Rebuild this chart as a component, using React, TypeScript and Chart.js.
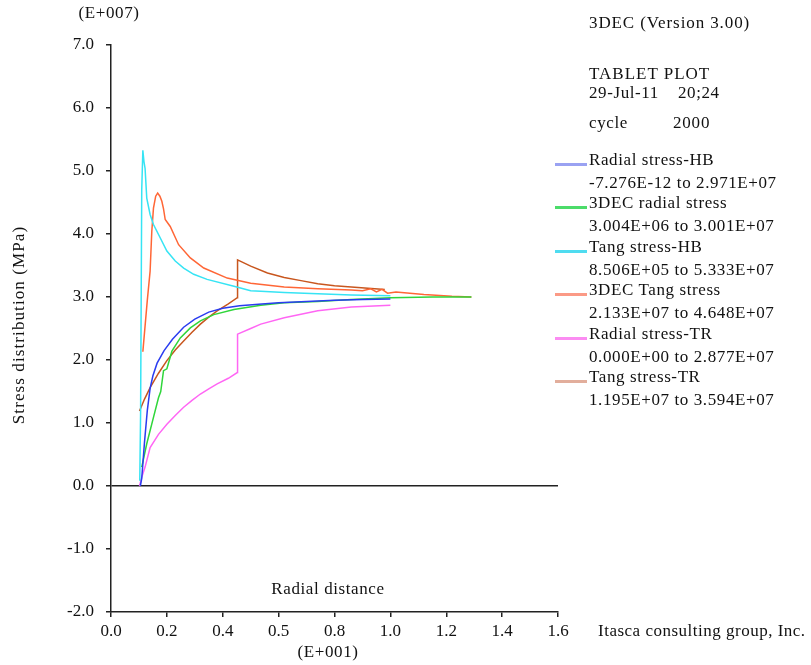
import React, { useEffect, useRef } from "react";
import { Chart, registerables } from "chart.js";
Chart.register(...registerables);

// ---- Axis ticks ----
const xTickLabels = ["0.0", "0.2", "0.4", "0.5", "0.8", "1.0", "1.2", "1.4", "1.6"];
const xMin = 0;
const xMax = 1.6;
const yMin = -2;
const yMax = 7;

// ---- Series (x in E+001, y in E+007) ----
const radialHBx = [0.105, 0.11, 0.12, 0.13, 0.14, 0.15, 0.165, 0.19, 0.22, 0.26, 0.30, 0.35, 0.40, 0.46, 0.54, 0.60, 0.70, 0.80, 0.90, 1.00];
const radialHBy = [0.00, 0.12, 0.70, 1.20, 1.55, 1.75, 1.95, 2.15, 2.33, 2.52, 2.65, 2.76, 2.82, 2.86, 2.89, 2.91, 2.93, 2.95, 2.96, 2.97];

const dec3Radialx = [0.11, 0.128, 0.152, 0.17, 0.178, 0.188, 0.20, 0.218, 0.248, 0.284, 0.32, 0.368, 0.44, 0.536, 0.62, 0.74, 0.86, 1.0, 1.15, 1.29];
const dec3Radialy = [0.30, 0.67, 1.09, 1.40, 1.50, 1.83, 1.86, 2.14, 2.35, 2.51, 2.62, 2.72, 2.80, 2.87, 2.91, 2.93, 2.96, 2.99, 3.00, 3.00];

const tangHBx = [0.103, 0.106, 0.110, 0.114, 0.118, 0.122, 0.128, 0.14, 0.152, 0.176, 0.2, 0.23, 0.26, 0.296, 0.344, 0.44, 0.5, 0.536, 0.62, 0.74, 0.86, 1.0];
const tangHBy = [0.085, 1.2, 4.7, 5.33, 5.15, 5.04, 4.57, 4.31, 4.15, 3.94, 3.73, 3.57, 3.46, 3.36, 3.28, 3.17, 3.10, 3.09, 3.07, 3.05, 3.03, 3.02];

const dec3Tangx = [0.114, 0.13, 0.14, 0.146, 0.152, 0.16, 0.167, 0.175, 0.182, 0.188, 0.194, 0.212, 0.242, 0.284, 0.332, 0.416, 0.5, 0.62, 0.74, 0.86, 0.90, 0.93, 0.95, 0.97, 0.99, 1.02, 1.12, 1.22, 1.29];
const dec3Tangy = [2.13, 2.95, 3.41, 4.04, 4.41, 4.60, 4.65, 4.60, 4.52, 4.40, 4.23, 4.12, 3.83, 3.62, 3.46, 3.30, 3.22, 3.16, 3.13, 3.11, 3.10, 3.13, 3.08, 3.12, 3.06, 3.08, 3.04, 3.01, 3.00];

const radialTRx = [0.102, 0.11, 0.122, 0.14, 0.17, 0.2, 0.23, 0.26, 0.29, 0.32, 0.35, 0.38, 0.42, 0.452, 0.453, 0.5, 0.536, 0.62, 0.74, 0.86, 1.0];
const radialTRy = [0.0, 0.14, 0.30, 0.61, 0.82, 0.98, 1.12, 1.25, 1.36, 1.46, 1.54, 1.62, 1.71, 1.80, 2.41, 2.50, 2.57, 2.67, 2.78, 2.84, 2.87];

const tangTRx = [0.102, 0.12, 0.14, 0.17, 0.2, 0.23, 0.26, 0.29, 0.32, 0.35, 0.38, 0.42, 0.452, 0.453, 0.5, 0.56, 0.62, 0.68, 0.74, 0.80, 0.86, 0.92, 0.98];
const tangTRy = [1.19, 1.38, 1.56, 1.79, 1.99, 2.16, 2.30, 2.44, 2.57, 2.68, 2.78, 2.89, 2.99, 3.59, 3.49, 3.38, 3.31, 3.26, 3.21, 3.18, 3.16, 3.14, 3.12];

const seriesNames = ["Radial stress-HB", "3DEC radial stress", "Tang stress-HB", "3DEC Tang stress", "Radial stress-TR", "Tang stress-TR"];
const seriesRanges = [
  "-7.276E-12 to 2.971E+07",
  "3.004E+06 to 3.001E+07",
  "8.506E+05 to 5.333E+07",
  "2.133E+07 to 4.648E+07",
  "0.000E+00 to 2.877E+07",
  "1.195E+07 to 3.594E+07",
];
const lineColors = ["#2a3cf0", "#2fd63a", "#36e4f4", "#ff6636", "#ff66f4", "#c8561e"];
const swatchColors = ["#9aa2f2", "#4cdc6a", "#4fdcf0", "#fb9a86", "#fb8cf2", "#e2ae9c"];

const headerLines = [
  { text: "3DEC (Version 3.00)", x: 589, base: 29, ls: 0.9 },
  { text: "TABLET PLOT", x: 589, base: 80, ls: 1.0 },
  { text: "29-Jul-11", x: 589, base: 99, ls: 0.6 },
  { text: "20;24", x: 678, base: 99, ls: 0.6 },
  { text: "cycle", x: 589, base: 129, ls: 0.6 },
  { text: "2000", x: 673, base: 129, ls: 0.8 },
];

const FONT = "'Liberation Serif', 'Times New Roman', serif";

function pts(xs: number[], ys: number[]) {
  return xs.map((x, i) => ({ x, y: ys[i] }));
}

function Txt(props: { x: number; base: number; text: string; size?: number; center?: boolean; ls?: number }) {
  const size = props.size ?? 17;
  const style: React.CSSProperties = {
    position: "absolute",
    left: props.center ? props.x - 200 : props.x,
    width: props.center ? 400 : undefined,
    textAlign: props.center ? "center" : "left",
    top: props.base - 16,
    fontFamily: FONT,
    fontSize: size,
    lineHeight: "20px",
    whiteSpace: "pre",
    color: "#111",
    letterSpacing: (props.ls ?? 0.6) + "px",
  };
  return <div style={style}>{props.text}</div>;
}

export default function App() {
  const ref = useRef<HTMLCanvasElement | null>(null);

  useEffect(() => {
    if (!ref.current) return;
    const allX = [radialHBx, dec3Radialx, tangHBx, dec3Tangx, radialTRx, tangTRx];
    const allY = [radialHBy, dec3Radialy, tangHBy, dec3Tangy, radialTRy, tangTRy];
    const chart = new Chart(ref.current, {
      type: "scatter",
      data: {
        datasets: seriesNames.map((name, i) => ({
          label: name,
          data: pts(allX[i], allY[i]),
          showLine: true,
          borderColor: lineColors[i],
          backgroundColor: lineColors[i],
          borderWidth: 1.5,
          pointRadius: 0,
          tension: 0,
        })),
      },
      options: {
        responsive: false,
        animation: false,
        events: [],
        layout: { padding: { left: 0, right: 811 - 558, top: 45, bottom: 13 } },
        plugins: { legend: { display: false }, tooltip: { enabled: false }, title: { display: false } },
        scales: {
          x: {
            type: "linear",
            min: xMin,
            max: xMax,
            afterFit: (s: any) => {
              s.height = 40;
            },
            afterBuildTicks: (s: any) => {
              s.ticks = xTickLabels.map((_, i) => ({ value: xMin + i * 0.2 }));
            },
            ticks: {
              autoSkip: false,
              maxRotation: 0,
              padding: 4,
              color: "#111",
              font: { family: FONT, size: 17 },
              callback: (_v: any, i: number) => xTickLabels[i],
            },
            grid: { display: true, drawOnChartArea: false, drawTicks: true, tickLength: 5, color: "#222", lineWidth: 1.5 },
            border: { display: true, color: "#222", width: 1.5 },
          },
          y: {
            type: "linear",
            min: yMin,
            max: yMax,
            afterFit: (s: any) => {
              s.width = 111;
            },
            ticks: {
              stepSize: 1,
              padding: 12,
              color: "#111",
              font: { family: FONT, size: 17 },
              callback: (v: any) => Number(v).toFixed(1),
            },
            grid: {
              display: true,
              drawOnChartArea: true,
              drawTicks: true,
              tickLength: 5,
              color: (ctx: any) => (ctx.tick && ctx.tick.value === 0 ? "#222" : "rgba(0,0,0,0)"),
              tickColor: "#222",
              lineWidth: 1.5,
            },
            border: { display: true, color: "#222", width: 1.5 },
          },
        },
      },
    });
    return () => chart.destroy();
  }, []);

  return (
    <div style={{ position: "absolute", left: 0, top: 0, width: 811, height: 665, background: "#fff", overflow: "hidden" }}>
      <canvas ref={ref} width={811} height={665} style={{ position: "absolute", left: 0, top: 0 }} />
      <Txt x={109} base={19} text="(E+007)" center />
      <Txt x={328} base={595} text="Radial distance" center />
      <Txt x={328} base={658} text="(E+001)" center />
      <Txt x={598} base={637} text="Itasca consulting group, Inc." ls={0.5} />
      {headerLines.map((h, i) => (
        <Txt key={"h" + i} x={h.x} base={h.base} text={h.text} ls={h.ls} />
      ))}
      {seriesNames.map((name, i) => {
        const b = 165.5 + i * 43.5;
        return (
          <React.Fragment key={"l" + i}>
            <div style={{ position: "absolute", left: 555, top: b - 3, width: 32, height: 3, background: swatchColors[i] }} />
            <Txt x={589} base={b} text={name} />
            <Txt x={589} base={b + 23} text={seriesRanges[i]} />
          </React.Fragment>
        );
      })}
      <div
        style={{
          position: "absolute",
          left: 19 - 150,
          top: 325 - 10,
          width: 300,
          height: 20,
          lineHeight: "20px",
          textAlign: "center",
          fontFamily: FONT,
          fontSize: 17,
          letterSpacing: "1.1px",
          color: "#111",
          transform: "rotate(-90deg)",
          whiteSpace: "pre",
        }}
      >
        Stress distribution (MPa)
      </div>
    </div>
  );
}
